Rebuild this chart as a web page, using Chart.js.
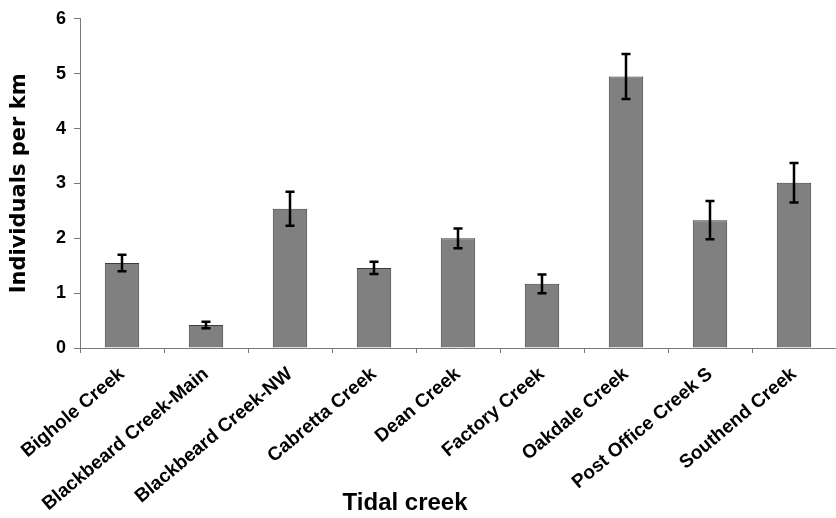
<!DOCTYPE html>
<html>
<head>
<meta charset="utf-8">
<script src="https://cdn.jsdelivr.net/npm/chart.js@4"></script>
<style>
  html, body { margin: 0; padding: 0; background: #fff; }
  #wrap { width: 836px; height: 518px; position: relative; }
</style>
</head>
<body>
<div id="wrap"><canvas id="c"></canvas></div>
<script>
const categories = ["Bighole Creek", "Blackbeard Creek-Main", "Blackbeard Creek-NW", "Cabretta Creek", "Dean Creek", "Factory Creek", "Oakdale Creek", "Post Office Creek S", "Southend Creek"];
const values = [1.55, 0.42, 2.54, 1.46, 2.00, 1.17, 4.95, 2.33, 3.01];
const errors = [0.15, 0.06, 0.31, 0.11, 0.18, 0.17, 0.41, 0.35, 0.36];
const yTicks = [0, 1, 2, 3, 4, 5, 6];
const xTitle = 'Tidal creek';
const yTitle = 'Individuals per km';

const errorBarPlugin = {
  id: 'errorBars',
  afterDatasetsDraw(chart) {
    const ctx = chart.ctx;
    const meta = chart.getDatasetMeta(0);
    const ys = chart.scales.y;
    ctx.save();
    ctx.strokeStyle = '#000';
    ctx.lineWidth = 2.5;
    ctx.lineCap = 'butt';
    meta.data.forEach((bar, i) => {
      const x = bar.x;
      const t = ys.getPixelForValue(values[i] + errors[i]);
      const b = ys.getPixelForValue(values[i] - errors[i]);
      const hw = 4.5;
      ctx.beginPath();
      ctx.moveTo(x, t); ctx.lineTo(x, b);
      ctx.moveTo(x - hw, t); ctx.lineTo(x + hw, t);
      ctx.moveTo(x - hw, b); ctx.lineTo(x + hw, b);
      ctx.stroke();
    });
    ctx.restore();
  }
};

// x-axis title, placed left of the chart-area centre as in the original
const xTitlePlugin = {
  id: 'xTitle',
  afterDraw(chart) {
    const ctx = chart.ctx;
    const xs = chart.scales.x;
    ctx.save();
    ctx.fillStyle = '#000';
    ctx.font = 'bold 24px "Liberation Sans", Arial, sans-serif';
    ctx.textAlign = 'center';
    ctx.textBaseline = 'middle';
    const cx = xs.left + xs.width * 0.43;
    ctx.fillText(xTitle, cx, xs.bottom - 15);
    ctx.restore();
  }
};

new Chart(document.getElementById('c'), {
  type: 'bar',
  data: {
    labels: categories,
    datasets: [{
      data: values,
      backgroundColor: '#808080',
      borderColor: '#3c3c3c',
      borderWidth: 1,
      barPercentage: 0.41,
      categoryPercentage: 1.0
    }]
  },
  options: {
    responsive: true,
    maintainAspectRatio: false,
    animation: false,
    layout: { padding: { top: 18, right: 0, left: 0, bottom: 0 } },
    plugins: { legend: { display: false }, tooltip: { enabled: false } },
    scales: {
      x: {
        offset: true,
        grid: { display: true, offset: true, drawOnChartArea: false, drawTicks: true, tickLength: 5, color: '#7a7a7a' },
        border: { display: true, color: '#7a7a7a', width: 1 },
        ticks: {
          autoSkip: false, maxRotation: 40, minRotation: 40, padding: 10,
          color: '#000',
          font: { family: '"Liberation Sans", Arial, sans-serif', size: 19, weight: 'bold' }
        },
        title: { display: false },
        afterFit(scale) { scale.height = 170; }
      },
      y: {
        min: 0, max: 6,
        afterBuildTicks(scale) { scale.ticks = yTicks.map(v => ({ value: v })); },
        grid: { display: true, drawOnChartArea: false, drawTicks: true, tickLength: 6, color: '#7a7a7a' },
        border: { display: true, color: '#7a7a7a', width: 1 },
        ticks: {
          padding: 8, color: '#000',
          font: { family: '"Liberation Sans", Arial, sans-serif', size: 18, weight: 'bold' }
        },
        title: {
          display: true, text: yTitle, color: '#000',
          font: { family: '"DejaVu Sans", sans-serif', size: 21, weight: 'bold' },
          padding: { top: 7, bottom: 0 }
        },
        afterFit(scale) { scale.width = 80; }
      }
    }
  },
  plugins: [errorBarPlugin, xTitlePlugin]
});
</script>
</body>
</html>
